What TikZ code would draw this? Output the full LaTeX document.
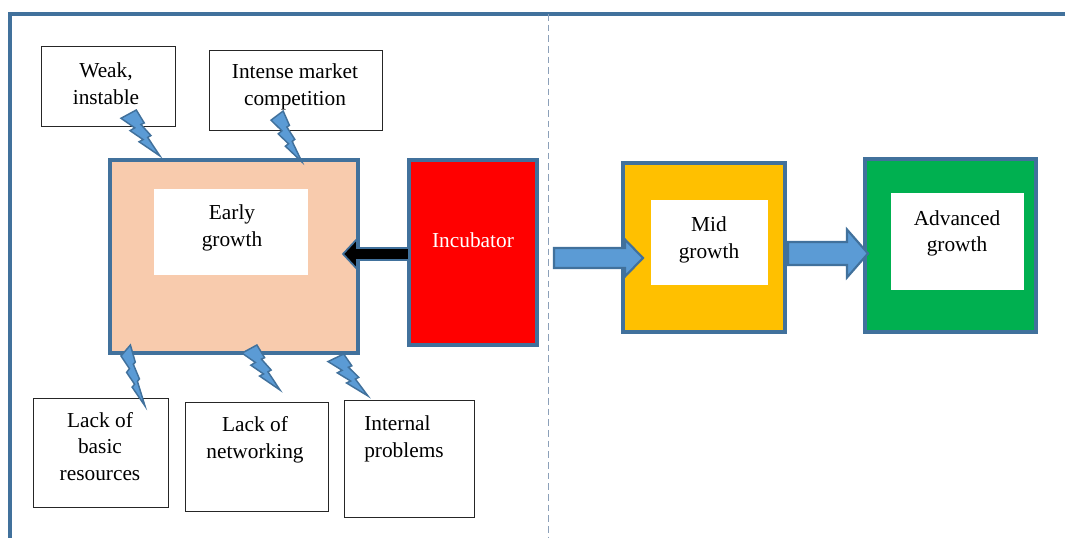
\documentclass[tikz,border=0pt]{standalone}
\usepackage{fontspec}
\setmainfont{Liberation Serif}
\usetikzlibrary{calc}
\definecolor{frameblue}{RGB}{65,113,156}
\definecolor{boltblue}{RGB}{91,155,213}
\definecolor{peach}{RGB}{248,203,173}
\definecolor{gold}{RGB}{255,192,0}
\definecolor{grn}{RGB}{0,176,80}
\definecolor{dashc}{RGB}{140,160,185}
% lightning bolt filling the box spanned by #1 (top left) and #2 (bottom right, the tip)
\newcommand\wordbolt[2]{\draw[bolt] let \p1=(#1), \p2=(#2) in
  ({\x1+0.392*(\x2-\x1)},{\y1}) --
  ({\x1},{\y1+0.180*(\y2-\y1)}) --
  ({\x1+0.352*(\x2-\x1)},{\y1+0.388*(\y2-\y1)}) --
  ({\x1+0.2325*(\x2-\x1)},{\y1+0.449*(\y2-\y1)}) --
  ({\x1+0.566*(\x2-\x1)},{\y1+0.643*(\y2-\y1)}) --
  ({\x1+0.4635*(\x2-\x1)},{\y1+0.6905*(\y2-\y1)}) --
  ({\x2},{\y2}) --
  ({\x1+0.6837*(\x2-\x1)},{\y1+0.5962*(\y2-\y1)}) --
  ({\x1+0.7674*(\x2-\x1)},{\y1+0.5559*(\y2-\y1)}) --
  ({\x1+0.5116*(\x2-\x1)},{\y1+0.3147*(\y2-\y1)}) --
  ({\x1+0.5954*(\x2-\x1)},{\y1+0.2815*(\y2-\y1)}) -- cycle;}
\newcommand\blockarr[6]{\draw[#1] ($(#2)+(0,#4)$) -- ($(#3)+(#6,#4)$) -- ($(#3)+(#6,#5)$) -- (#3) -- ($(#3)+(#6,-#5)$) -- ($(#3)+(#6,-#4)$) -- ($(#2)+(0,-#4)$) -- cycle;}
\begin{document}
\begin{tikzpicture}[x=0.75pt,y=-0.75pt,
  sz/.style 2 args={minimum width=#1*0.75pt, minimum height=#2*0.75pt, inner sep=0pt, outer sep=0pt},
  txtbox/.style={draw=black!85, line width=0.6pt, fill=white},
  stage/.style={draw=frameblue, line width=2.3pt},
  inner/.style={fill=white, draw=none},
  txt/.style={font=\fontsize{16}{20}\selectfont, align=center, inner sep=0pt},
  frame/.style={draw=frameblue, line width=2.3pt},
  bolt/.style={fill=boltblue, draw=frameblue, line width=1.1pt, line join=miter},
  bluearrow/.style={fill=boltblue, draw=frameblue, line width=1.6pt, line join=miter},
  blackarrow/.style={fill=black, draw=frameblue, line width=1.3pt, line join=miter}]
\useasboundingbox (0,0) rectangle (1065,538);
% frame and divider
\draw[frame] (10,538) -- (10,14) -- (1065,14);
\draw[dashc, line width=0.7pt, dash pattern=on 5pt off 3pt] (548,14) -- (548,538);
% top text boxes
\node[txtbox, sz={134}{80}] (weak) at (108,86) {};
\node[txt] (weakt) at (106,84) {Weak,\\instable};
\node[txtbox, sz={173}{80}] (intense) at (295.5,90) {};
\node[txt] (intenset) at (295,87) {Intense market\\competition};
% stages
\node[stage, fill=peach, sz={248}{193}] (early) at (234,256.5) {};
\node[inner, sz={154}{86}] (earlyin) at (231,232) {};
\node[txt] (earlyt) at (232,228) {Early\\growth};
\node[stage, fill=red, sz={128}{185}] (incub) at (473,252.5) {};
\node[txt, text=white] (incubt) at (473,240) {Incubator};
\node[stage, fill=gold, sz={162}{169}] (mid) at (704,247.5) {};
\node[inner, sz={117}{85}] (midin) at (709.5,242.5) {};
\node[txt] (midt) at (709,240) {Mid\\growth};
\node[stage, fill=grn, sz={171}{173}] (adv) at (950.5,245.5) {};
\node[inner, sz={133}{97}] (advin) at (957.5,241.5) {};
\node[txt] (advt) at (957,233.5) {Advanced\\growth};
% bottom text boxes
\node[txtbox, sz={135}{109}] (lbr) at (100.5,452.5) {};
\node[txt] (lbrt) at (100,446.5) {Lack of\\basic\\resources};
\node[txtbox, sz={143}{109}] (lnet) at (256.5,456.5) {};
\node[txt] (lnett) at (255,440) {Lack of\\networking};
\node[txtbox, sz={130}{117}] (intp) at (409,458.5) {};
\node[txt, align=left, anchor=west] (intpt) at (364,439) {Internal\\problems};
% block arrows
\coordinate (ba1) at ($(incub.west)+(0,1.5)$);
\coordinate (ba2) at ($(ba1 -| early.east)+(-15,0)$);
\blockarr{blackarrow}{ba1}{ba2}{6}{15}{14}
\coordinate (a1t) at ($(incub.east)+(17,5.5)$);
\coordinate (a1h) at ($(a1t -| mid.west)+(20,0)$);
\blockarr{bluearrow}{a1t}{a1h}{10}{18.5}{-18}
\coordinate (a2t) at ($(mid.east)+(3,6)$);
\coordinate (a2h) at ($(a2t -| adv.west)+(3,0)$);
\blockarr{bluearrow}{a2t}{a2h}{11.5}{24}{-21}
% lightning bolts (start corner, tip)
\coordinate (b1s) at (121,110); \coordinate (b1e) at (160,156);
\coordinate (b2s) at (271,111); \coordinate (b2e) at (302,162);
\coordinate (b3s) at (121,345); \coordinate (b3e) at (145,406);
\coordinate (b4s) at (242,345); \coordinate (b4e) at (280,390);
\coordinate (b5s) at (328,354); \coordinate (b5e) at (368,396);
\wordbolt{b1s}{b1e}
\wordbolt{b2s}{b2e}
\wordbolt{b3s}{b3e}
\wordbolt{b4s}{b4e}
\wordbolt{b5s}{b5e}
\end{tikzpicture}
\end{document}
